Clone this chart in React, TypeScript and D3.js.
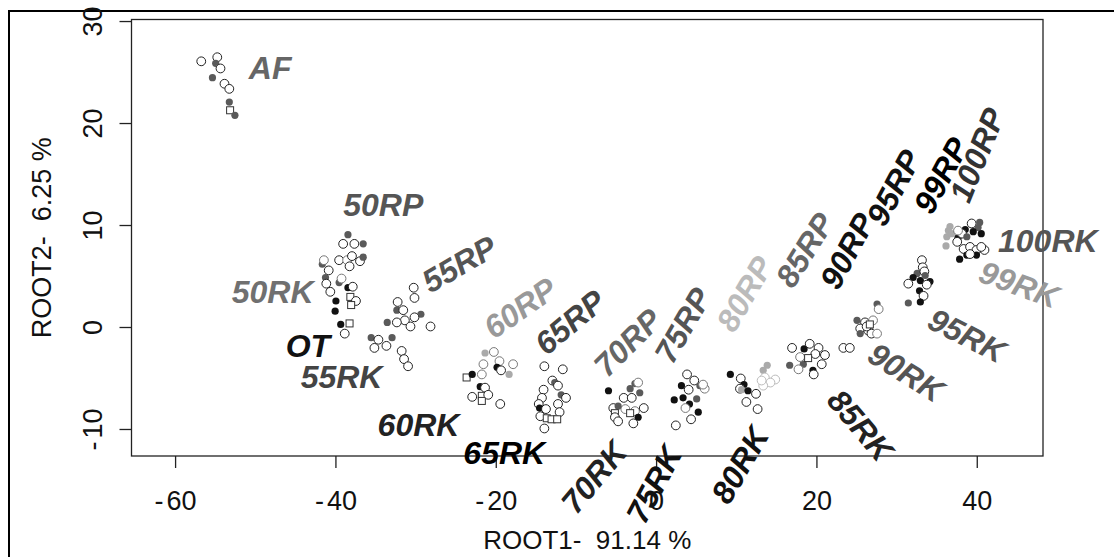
import React from 'react';
import * as d3 from 'd3';

// point markers: o = open circle, og = open grey circle, ol = open light circle,
// g = filled grey, k = filled black, l = filled light grey, s = open square
type Pt = [number, number, string];

const ptsAF: Pt[] = [
  [-56.8, 26.1, 'o'], [-54.8, 26.5, 'o'], [-55.0, 25.9, 'g'], [-54.4, 25.4, 'o'], [-55.4, 24.5, 'g'],
  [-53.9, 23.9, 'o'], [-53.3, 23.4, 'o'], [-53.3, 22.1, 'g'], [-53.2, 21.3, 's'], [-52.6, 20.8, 'g'],
];

const pts50: Pt[] = [
  [-38.5, 9.1, 'g'], [-39.1, 8.2, 'o'], [-37.7, 8.2, 'o'], [-36.6, 8.2, 'g'], [-41.7, 6.2, 'g'],
  [-41.5, 6.6, 'og'], [-39.6, 6.6, 'o'], [-38.6, 6.6, 'og'], [-38.0, 7.0, 'o'], [-38.3, 6.0, 'o'],
  [-37.0, 6.5, 'o'], [-36.6, 6.9, 'g'], [-40.9, 5.6, 'o'], [-41.3, 4.9, 'g'], [-41.2, 4.3, 'o'],
  [-39.6, 4.4, 'g'], [-39.3, 4.8, 'og'], [-40.7, 3.5, 'o'], [-38.5, 3.9, 'k'], [-37.9, 4.0, 'o'],
  [-38.2, 3.0, 's'], [-40.0, 2.6, 'k'], [-37.5, 2.6, 'o'], [-38.1, 2.2, 's'], [-40.1, 1.6, 'k'],
  [-39.4, 0.3, 'k'], [-38.3, 0.4, 's'], [-38.9, -0.6, 'o'],
];

const pts55: Pt[] = [
  [-30.3, 3.9, 'o'], [-30.2, 2.9, 'o'], [-32.3, 2.5, 'o'], [-32.4, 1.7, 'g'], [-31.6, 1.7, 'o'],
  [-29.4, 1.3, 'g'], [-30.2, 1.0, 'o'], [-31.4, 0.7, 'o'], [-32.4, 0.5, 'o'], [-33.6, 0.5, 'g'],
  [-30.7, 0.1, 'o'], [-28.2, 0.1, 'o'], [-35.6, -1.0, 'g'], [-34.7, -1.2, 'o'], [-33.0, -1.0, 'g'],
  [-35.2, -2.0, 'o'], [-33.7, -1.8, 'o'], [-31.8, -2.3, 'o'], [-31.5, -3.1, 'o'], [-31.0, -3.8, 'o'],
];

const pts60: Pt[] = [
  [-20.3, -2.4, 'og'], [-21.4, -2.5, 'l'], [-21.6, -3.6, 'og'], [-19.6, -3.3, 'og'], [-19.9, -3.9, 'k'],
  [-19.4, -4.2, 'o'], [-17.9, -3.6, 'og'], [-18.4, -4.6, 'l'], [-21.8, -4.6, 'og'], [-23.7, -4.9, 's'],
  [-23.0, -4.6, 'k'], [-22.0, -5.8, 'k'], [-21.4, -5.9, 'o'], [-23.0, -6.8, 'o'], [-21.8, -6.7, 's'],
  [-21.8, -7.2, 's'], [-21.0, -6.6, 'o'], [-19.5, -7.5, 'o'],
];

const pts65: Pt[] = [
  [-14.0, -3.8, 'o'], [-11.7, -4.1, 'o'], [-13.0, -5.2, 'o'], [-12.7, -5.4, 'g'], [-12.3, -5.7, 'o'],
  [-14.1, -6.1, 'o'], [-11.9, -6.6, 'g'], [-11.3, -6.9, 'o'], [-14.3, -6.9, 'o'], [-12.3, -7.5, 'o'],
  [-14.7, -7.5, 'o'], [-14.6, -7.9, 'k'], [-13.8, -8.0, 'o'], [-12.1, -8.3, 'o'], [-14.5, -8.7, 'o'],
  [-13.7, -8.9, 's'], [-13.1, -9.0, 's'], [-12.4, -9.0, 's'], [-14.0, -9.9, 'o'],
];

const pts70: Pt[] = [
  [-6.0, -6.2, 'k'], [-3.3, -6.0, 'g'], [-2.7, -5.5, 'g'], [-2.3, -5.4, 'og'], [-2.1, -6.4, 'g'],
  [-4.1, -6.9, 'o'], [-3.1, -6.9, 'o'], [-5.4, -7.9, 'o'], [-3.9, -8.0, 'og'], [-2.7, -8.2, 'og'],
  [-1.6, -7.9, 'o'], [-4.8, -7.7, 'g'], [-5.2, -8.4, 's'], [-3.3, -8.4, 's'], [-5.2, -8.8, 'o'],
  [-2.3, -8.8, 'k'], [-4.8, -9.2, 'o'], [-2.9, -9.4, 'o'],
];

const pts75: Pt[] = [
  [3.8, -4.6, 'o'], [4.7, -5.2, 'o'], [3.1, -5.7, 'k'], [4.0, -6.1, 'o'], [5.4, -5.7, 'g'],
  [6.0, -6.0, 'og'], [5.8, -5.6, 'og'], [5.0, -7.0, 'g'], [2.2, -7.1, 'k'], [3.3, -6.9, 'k'],
  [4.1, -7.5, 'k'], [3.6, -7.9, 'og'], [5.2, -8.3, 'k'], [4.3, -9.0, 'o'], [2.4, -9.6, 'o'],
];

const pts80: Pt[] = [
  [9.2, -4.6, 'k'], [10.5, -5.0, 'o'], [10.9, -5.6, 'k'], [10.4, -6.0, 'o'], [10.6, -6.1, 'l'],
  [11.4, -6.2, 'k'], [12.4, -6.5, 'o'], [11.2, -7.3, 'o'], [12.6, -8.0, 'o'],
  [13.8, -3.7, 'l'], [13.3, -4.2, 'l'], [13.5, -4.9, 'ol'], [14.8, -5.1, 'ol'], [14.2, -5.4, 'ol'],
  [13.3, -5.7, 'ol'], [13.1, -5.2, 'ol'],
];

const pts85: Pt[] = [
  [16.9, -2.0, 'o'], [18.4, -2.1, 'k'], [19.1, -1.6, 'o'], [20.2, -2.0, 'o'], [19.8, -2.6, 'o'],
  [21.0, -2.7, 'o'], [16.6, -3.7, 'g'], [18.3, -3.6, 'g'], [17.7, -4.1, 'og'], [20.6, -3.6, 'o'],
  [19.5, -4.2, 'k'], [19.6, -4.6, 'o'], [17.9, -2.9, 'og'], [18.9, -3.0, 's'],
];

const pts90: Pt[] = [
  [23.3, -2.0, 'o'], [24.1, -2.0, 'o'], [27.5, 2.3, 'g'], [27.7, 1.8, 'og'], [25.0, 0.7, 'g'],
  [26.0, 0.5, 'o'], [27.0, 0.7, 'og'], [25.4, -0.1, 'o'], [25.4, -0.6, 'g'], [26.4, -0.3, 'o'],
  [26.8, -0.6, 'o'], [27.5, -0.6, 'og'], [26.2, 0.1, 'o'], [26.6, 0.3, 's'],
];

const pts95: Pt[] = [
  [33.1, 6.6, 'o'], [33.2, 5.9, 'o'], [32.5, 5.3, 'g'], [32.0, 4.9, 'k'], [32.9, 4.6, 'k'],
  [31.4, 4.3, 'o'], [34.1, 4.5, 'k'], [33.7, 4.2, 'o'], [32.8, 3.6, 'k'], [33.3, 3.1, 'o'],
  [31.4, 2.4, 'g'], [32.9, 2.5, 'k'], [33.4, 5.5, 'o'], [33.5, 5.1, 'g'],
];

const pts100: Pt[] = [
  [36.6, 9.9, 'l'], [36.4, 9.5, 'l'], [36.2, 8.9, 'l'], [36.1, 8.0, 'l'], [36.8, 9.2, 'l'],
  [38.5, 9.6, 'k'], [37.6, 8.8, 'k'], [38.1, 9.2, 'o'], [39.3, 10.2, 'o'], [40.3, 10.3, 'g'],
  [40.1, 9.8, 'g'], [40.5, 9.2, 'k'], [39.5, 9.4, 'k'], [37.5, 8.4, 'o'], [38.3, 7.7, 'o'],
  [39.1, 7.9, 'o'], [39.9, 7.6, 'o'], [40.9, 7.6, 'o'], [37.8, 6.7, 'k'], [38.7, 7.1, 'k'],
  [39.9, 7.1, 'k'], [39.1, 7.2, 'o'], [40.5, 7.9, 'o'], [37.6, 9.5, 'og'], [38.7, 8.9, 'g'],
];

const allPoints: Pt[] = [
  ...ptsAF, ...pts50, ...pts55, ...pts60, ...pts65, ...pts70, ...pts75,
  ...pts80, ...pts85, ...pts90, ...pts95, ...pts100,
];

// group labels, anchored at their centre in data units
const labelText = [
  'AF', '50RP', '50RK', 'OT', '55RK', '60RK', '65RK', '55RP', '60RP', '65RP', '70RP', '75RP',
  '80RP', '85RP', '90RP', '95RP', '99RP', '100RP', '100RK', '99RK', '95RK', '90RK', '85RK',
  '80RK', '75RK', '70RK',
];
const labelX = [
  -48.2, -34.1, -47.9, -43.5, -39.3, -29.7, -19.0, -24.6, -17.0, -10.8, -3.6, 3.3,
  11.0, 18.5, 23.8, 29.6, 35.5, 40.0, 48.8, 45.2, 38.7, 31.1, 25.4,
  10.4, -0.3, -7.8,
];
const labelY = [
  25.4, 12.0, 3.5, -1.8, -4.9, -9.6, -12.3, 6.2, 1.9, 0.5, -1.5, 0.2,
  3.3, 7.6, 7.5, 13.7, 14.9, 16.9, 8.5, 4.2, -0.8, -4.4, -9.6,
  -13.5, -15.4, -14.7,
];
const labelAngle = [
  0, 0, 0, 0, 0, 0, 0, -30, -35, -40, -45, -60,
  -60, -58, -62, -62, -62, -68, 0, 20, 27, 32, 50,
  -60, -62, -50,
];
const labelColor = [
  '#666', '#555', '#707070', '#111', '#444', '#222', '#000', '#555', '#999', '#444', '#666', '#555',
  '#bbb', '#666', '#111', '#111', '#000', '#333', '#555', '#999', '#555', '#555', '#222',
  '#111', '#111', '#222',
];

const xTicks = [-60, -40, -20, 0, 20, 40];
const yTicks = [-10, 0, 10, 20, 30];

const W = 1114;
const H = 557;
const plotL = 131.5;
const plotR = 1043;
const plotT = 19.5;
const plotB = 456;

const font = '"Liberation Sans", Arial, sans-serif';

const tickText = (v: number) =>
  v < 0 ? (
    <>
      <tspan>-</tspan>
      <tspan dx={3}>{Math.abs(v)}</tspan>
    </>
  ) : (
    String(v)
  );

const Marker = ({ cx, cy, t }: { cx: number; cy: number; t: string }) => {
  if (t === 'k') return <circle cx={cx} cy={cy} r={3.6} fill="#111" />;
  if (t === 'g') return <circle cx={cx} cy={cy} r={3.6} fill="#5a5a5a" />;
  if (t === 'l') return <circle cx={cx} cy={cy} r={3.6} fill="#aaa" />;
  if (t === 's')
    return <rect x={cx - 3.5} y={cy - 3.5} width={7} height={7} fill="white" stroke="#333" strokeWidth={1} />;
  const stroke = t === 'og' ? '#777' : t === 'ol' ? '#bbb' : '#222';
  return <circle cx={cx} cy={cy} r={4.4} fill="white" stroke={stroke} strokeWidth={1} />;
};

export default function App() {
  const x = d3.scaleLinear().domain([-65.5, 48.2]).range([plotL, plotR]);
  const y = d3.scaleLinear().domain([-12.6, 30.2]).range([plotB, plotT]);

  return (
    <svg
      width={W}
      height={H}
      style={{ position: 'absolute', left: 0, top: 0, background: 'white' }}
      fontFamily={font}
    >
      <rect x={0} y={0} width={W} height={H} fill="white" />
      {/* outer frame, cut off by the image edge */}
      <rect x={9} y={11} width={1130} height={570} fill="none" stroke="#000" strokeWidth={2} />

      {/* plot box */}
      <rect x={plotL} y={plotT} width={plotR - plotL} height={plotB - plotT} fill="none" stroke="#222" strokeWidth={1.3} />

      {/* x axis */}
      {xTicks.map((t) => (
        <g key={'x' + t}>
          <line x1={x(t)} x2={x(t)} y1={plotB} y2={plotB + 12} stroke="#222" strokeWidth={1.3} />
          <text x={x(t)} y={510} textAnchor="middle" fontSize={27} fill="#111">
            {tickText(t)}
          </text>
        </g>
      ))}
      {/* y axis */}
      {yTicks.map((t) => (
        <g key={'y' + t}>
          <line x1={plotL - 12} x2={plotL} y1={y(t)} y2={y(t)} stroke="#222" strokeWidth={1.3} />
          <text
            transform={`translate(102,${y(t)}) rotate(-90)`}
            textAnchor="middle"
            fontSize={27}
            fill="#111"
          >
            {tickText(t)}
          </text>
        </g>
      ))}

      <text
        x={(plotL + plotR) / 2}
        y={549}
        textAnchor="middle"
        fontSize={26}
        fill="#111"
        style={{ whiteSpace: 'pre' }}
      >
        ROOT1-  91.14 %
      </text>
      <text
        transform={`translate(51,${(plotT + plotB) / 2}) rotate(-90)`}
        textAnchor="middle"
        fontSize={27}
        fill="#111"
        style={{ whiteSpace: 'pre' }}
      >
        ROOT2-  6.25 %
      </text>

      {allPoints.map((p, i) => (
        <Marker key={i} cx={x(p[0])} cy={y(p[1])} t={p[2]} />
      ))}

      {labelText.map((s, i) => (
        <text
          key={s}
          transform={`translate(${x(labelX[i])},${y(labelY[i])}) rotate(${labelAngle[i]})`}
          textAnchor="middle"
          dominantBaseline="central"
          fontSize={32}
          fontWeight="bold"
          fontStyle="italic"
          fill={labelColor[i]}
        >
          {s}
        </text>
      ))}
    </svg>
  );
}
